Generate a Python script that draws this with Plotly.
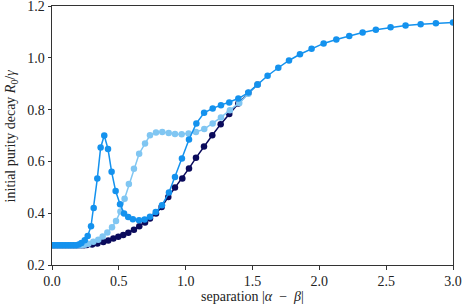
import plotly.graph_objects as go

# ---- data ----
flat_x = [0.0, 0.02, 0.04, 0.06, 0.08, 0.10, 0.12, 0.14, 0.16, 0.18]

dark_x = flat_x + [0.20, 0.22, 0.24, 0.26, 0.30, 0.34, 0.384, 0.421, 0.459, 0.496, 0.533,
                   0.571, 0.613, 0.653, 0.696, 0.733, 0.778, 0.820, 0.870, 0.920,
                   0.975, 1.025, 1.077, 1.137, 1.199, 1.262, 1.326, 1.394, 1.469, 1.538]
dark_y = [0.276] * 10 + [0.276, 0.276, 0.276, 0.277, 0.279, 0.283, 0.289, 0.295, 0.302, 0.309, 0.316,
                         0.325, 0.336, 0.350, 0.364, 0.380, 0.399, 0.424, 0.463, 0.499,
                         0.534, 0.573, 0.614, 0.658, 0.701, 0.744, 0.783, 0.824, 0.864, 0.897]

light_x = flat_x + [0.20, 0.22, 0.245, 0.272, 0.309, 0.346, 0.379, 0.414, 0.449, 0.479, 0.512,
                    0.543, 0.575, 0.613, 0.652, 0.696, 0.733, 0.778, 0.825, 0.873,
                    0.920, 0.970, 1.022, 1.077, 1.139, 1.202, 1.264, 1.331, 1.401, 1.469, 1.538]
light_y = [0.276] * 10 + [0.276, 0.276, 0.278, 0.282, 0.290, 0.298, 0.310, 0.326, 0.346, 0.370, 0.407,
                          0.456, 0.513, 0.572, 0.630, 0.669, 0.701, 0.712, 0.714, 0.710,
                          0.706, 0.705, 0.708, 0.714, 0.725, 0.747, 0.770, 0.798, 0.826, 0.862, 0.897]

mid_x = flat_x + [0.20, 0.22, 0.245, 0.267, 0.292, 0.312, 0.339, 0.364, 0.391, 0.419, 0.446,
                  0.476, 0.509, 0.539, 0.570, 0.605, 0.651, 0.693, 0.733, 0.776, 0.823,
                  0.875, 0.920, 0.972, 1.025, 1.080, 1.138, 1.202, 1.264, 1.326, 1.394,
                  1.469, 1.538, 1.613, 1.693, 1.773, 1.855, 1.942, 2.032, 2.127, 2.224,
                  2.324, 2.423, 2.533, 2.645, 2.758, 2.872, 3.0]
mid_y = [0.276] * 10 + [0.279, 0.285, 0.296, 0.312, 0.350, 0.420, 0.534, 0.654, 0.700, 0.648, 0.560,
                        0.486, 0.435, 0.399, 0.385, 0.377, 0.373, 0.376, 0.386, 0.405, 0.431,
                        0.480, 0.540, 0.611, 0.685, 0.747, 0.788, 0.805, 0.817, 0.828, 0.843,
                        0.866, 0.897, 0.931, 0.962, 0.990, 1.014, 1.035, 1.056, 1.071, 1.085,
                        1.098, 1.109, 1.118, 1.125, 1.130, 1.134, 1.137]

x_ticks = [0.0, 0.5, 1.0, 1.5, 2.0, 2.5, 3.0]
y_ticks = [0.2, 0.4, 0.6, 0.8, 1.0, 1.2]

x_title = "separation |<i>α</i>\u2002−\u2002<i>β</i>|"
y_title = "initial purity decay <i>R</i><sub>0</sub>/<i>γ</i>"

series = [
    (dark_x, dark_y, "#0b0b5c"),
    (light_x, light_y, "#80c6f2"),
    (mid_x, mid_y, "#1492ee"),
]

FONT = "Liberation Serif"
TXT = "#222222"

fig = go.Figure()
for xs, ys, col in series:
    fig.add_trace(go.Scatter(
        x=xs, y=ys, mode="lines+markers",
        line=dict(color=col, width=1.5),
        marker=dict(color=col, size=6.5, line=dict(width=0)),
        showlegend=False,
    ))

axis_common = dict(
    showline=True, linecolor="#333333", linewidth=1, mirror=True,
    ticks="outside", ticklen=3.5, tickwidth=1, tickcolor="#333333",
    showgrid=False, zeroline=False, automargin=False,
    ticklabeloverflow="allow",
    tickfont=dict(family=FONT, size=14, color=TXT),
)

fig.update_xaxes(range=[0, 3.0], tickvals=x_ticks, tickformat=".1f", **axis_common)
fig.update_yaxes(range=[0.2, 1.2005], tickvals=y_ticks, tickformat=".1f", **axis_common)

fig.add_annotation(text=x_title, xref="paper", yref="paper", x=0.5, y=-0.12,
                   yanchor="middle", xanchor="center", showarrow=False,
                   font=dict(family=FONT, size=14, color=TXT))
fig.add_annotation(text=y_title, xref="paper", yref="paper", x=-0.1, y=0.5,
                   xanchor="center", yanchor="middle", showarrow=False, textangle=-90,
                   font=dict(family=FONT, size=14, color=TXT))

fig.update_layout(
    width=469, height=306,
    margin=dict(l=52, r=16, t=6, b=41),
    paper_bgcolor="white", plot_bgcolor="white",
)

fig.write_html("out.html", config={"displayModeBar": False},
               post_script="document.body.style.margin='0';document.body.style.overflow='hidden';")
